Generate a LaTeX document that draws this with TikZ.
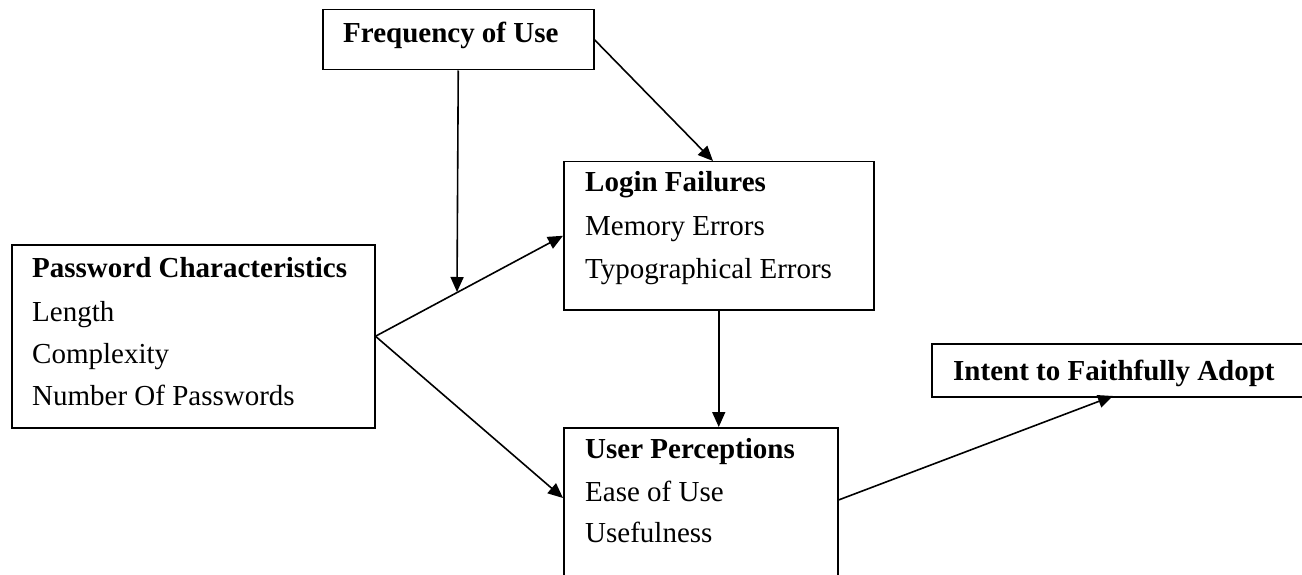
\documentclass[tikz,border=0pt]{standalone}
\usepackage{fontspec}
\setmainfont{Liberation Serif}
\usetikzlibrary{arrows.meta,calc}
\begin{document}
\begin{tikzpicture}[x=1pt,y=-1pt,
  box/.style={draw=black,line width=1.5pt,fill=white,inner sep=0pt,anchor=north west},
  lbl/.style={anchor=base west,inner sep=0pt,font=\fontsize{29}{34}\selectfont},
  hd/.style={anchor=base west,inner sep=0pt,font=\fontsize{29}{34}\selectfont\bfseries},
  arr/.style={line width=1.6pt,-{Triangle[length=15pt,width=13pt]}}]
\useasboundingbox (0,0) rectangle (1302,575);
\clip (0,0) rectangle (1302,575);
% boxes
\node[box,minimum width=271pt,minimum height=60pt] (fu) at (322,9) {};
\node[box,minimum width=310pt,minimum height=148pt] (lf) at (563,161) {};
\node[box,minimum width=363pt,minimum height=183pt] (pc) at (11,244) {};
\node[box,minimum width=274pt,minimum height=170pt] (up) at (563,427) {};
\node[box,minimum width=420pt,minimum height=53pt] (ia) at (931,343) {};
% texts
\node[hd] (t1) at (343,43) {Frequency of Use};
\node[hd] (t2) at (585,192) {Login Failures};
\node[lbl] (t3) at (585,236) {Memory Errors};
\node[lbl] (t4) at (585,278) {Typographical Errors};
\node[hd] (t5) at (32,277) {Password Characteristics};
\node[lbl] (t6) at (32,321) {Length};
\node[lbl] (t7) at (32,363) {Complexity};
\node[lbl] (t8) at (32,405) {Number Of Passwords};
\node[hd] (t9) at (585,458) {User Perceptions};
\node[lbl] (t10) at (585,501) {Ease of Use};
\node[lbl] (t11) at (585,542) {Usefulness};
\node[hd] (t12) at (953,380) {Intent to Faithfully Adopt};
% connector points
\coordinate (j) at (457,292);
\coordinate (lfn) at (713,161);
\coordinate (upw) at ($(up.north west)+(0,71)$);
\coordinate (upe) at ($(up.north east)+(0,73)$);
\coordinate (iab) at (1113,396);
% connectors
\draw[arr] (fu.south) -- (j);
\draw[arr] (fu.east) -- (lfn);
\draw[arr] (pc.east) -- (lf.west);
\draw[arr] (pc.east) -- (upw);
\draw[arr] (lf.south) -- (lf.south |- up.north);
\draw[arr] (upe) -- (iab);
\end{tikzpicture}
\end{document}
